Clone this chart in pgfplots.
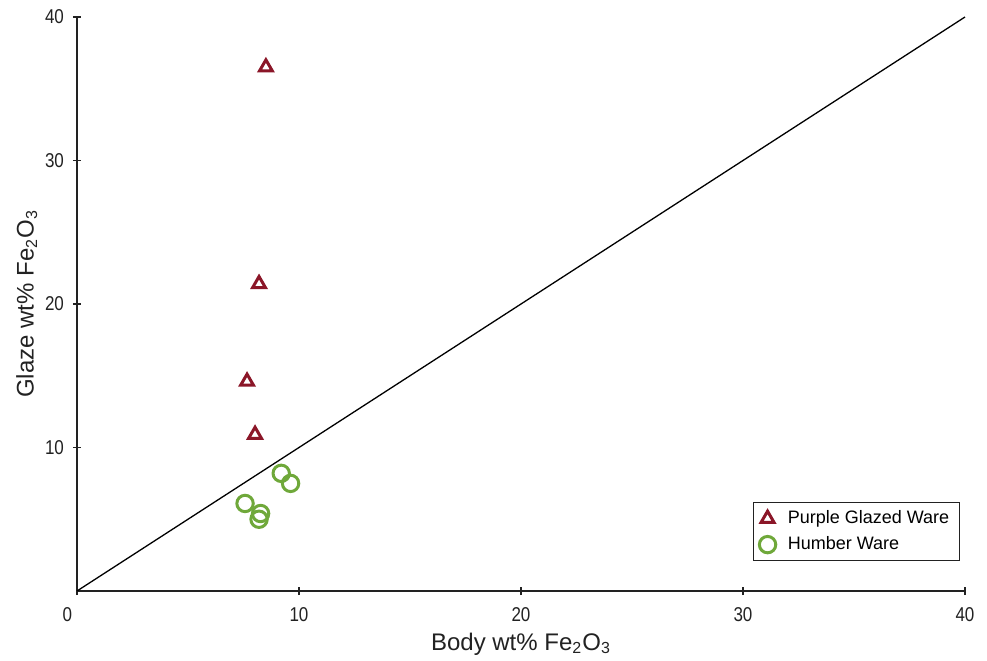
\documentclass[border=0pt]{standalone}
\usepackage{pgfplots}
\pgfplotsset{compat=1.18}
\usepackage{fontspec}
\setmainfont{Liberation Sans}
\newfontfamily\narrowfont[FakeStretch=0.85]{Liberation Sans}
\definecolor{pgw}{HTML}{8B1628}
\definecolor{hw}{HTML}{6FA83A}
\definecolor{axc}{HTML}{222222}
\begin{document}
\begin{tikzpicture}
\begin{axis}[
  at={(38.5pt,34.5pt)}, anchor=south west,
  scale only axis, width=444pt, height=287pt,
  xmin=0, xmax=40, ymin=0, ymax=40,
  axis x line=bottom, axis y line=left,
  axis line style={-, line width=1pt, color=axc},
  xtick={0,10,20,30,40}, ytick={10,20,30,40},
  xticklabels={\makebox[0pt][r]{0\kern2.5pt},10,20,30,40},
  tick align=center, major tick length=4pt,
  tick style={line width=0.8pt, color=axc},
  /pgf/number format/assume math mode=true,
  ticklabel style={font=\narrowfont\fontsize{10}{11}\selectfont, text=axc},
  xticklabel style={yshift=-2.5pt},
  yticklabel style={xshift=-1pt},
  xlabel={Body wt\% Fe\textsubscript{2}O\textsubscript{3}},
  ylabel={Glaze wt\% Fe\textsubscript{2}O\textsubscript{3}},
  label style={font=\fontsize{12}{14}\selectfont, text=axc},
  xlabel style={yshift=1pt},
  ylabel style={yshift=-3pt},
  legend style={at={(0.994,0.052)}, anchor=south east, draw=axc, line width=0.5pt,
    font=\fontsize{9}{12}\selectfont, row sep=1pt, column sep=4pt, inner xsep=3pt, inner ysep=2pt},
  legend cell align=left,
  clip=false,
]
\addplot[black, line width=0.65pt, forget plot] coordinates {(0,0) (40,40)};
\addplot[only marks, mark=triangle*, mark size=3.7pt, draw=pgw, fill=white, line width=1.5pt,
  mark options={solid}] coordinates {
  (8.51,36.5) (8.20,21.4) (7.66,14.6) (8.02,10.9)};
\addlegendentry{Purple Glazed Ware}
\addplot[only marks, mark=o, mark size=4.1pt, draw=hw, line width=1.5pt] coordinates {
  (9.20,8.20) (9.62,7.50) (7.57,6.10) (8.27,5.40) (8.20,5.00)};
\addlegendentry{Humber Ware}
\end{axis}
\pgfresetboundingbox
\path[use as bounding box] (0,0) rectangle (493.5pt,330pt);
\end{tikzpicture}
\end{document}
